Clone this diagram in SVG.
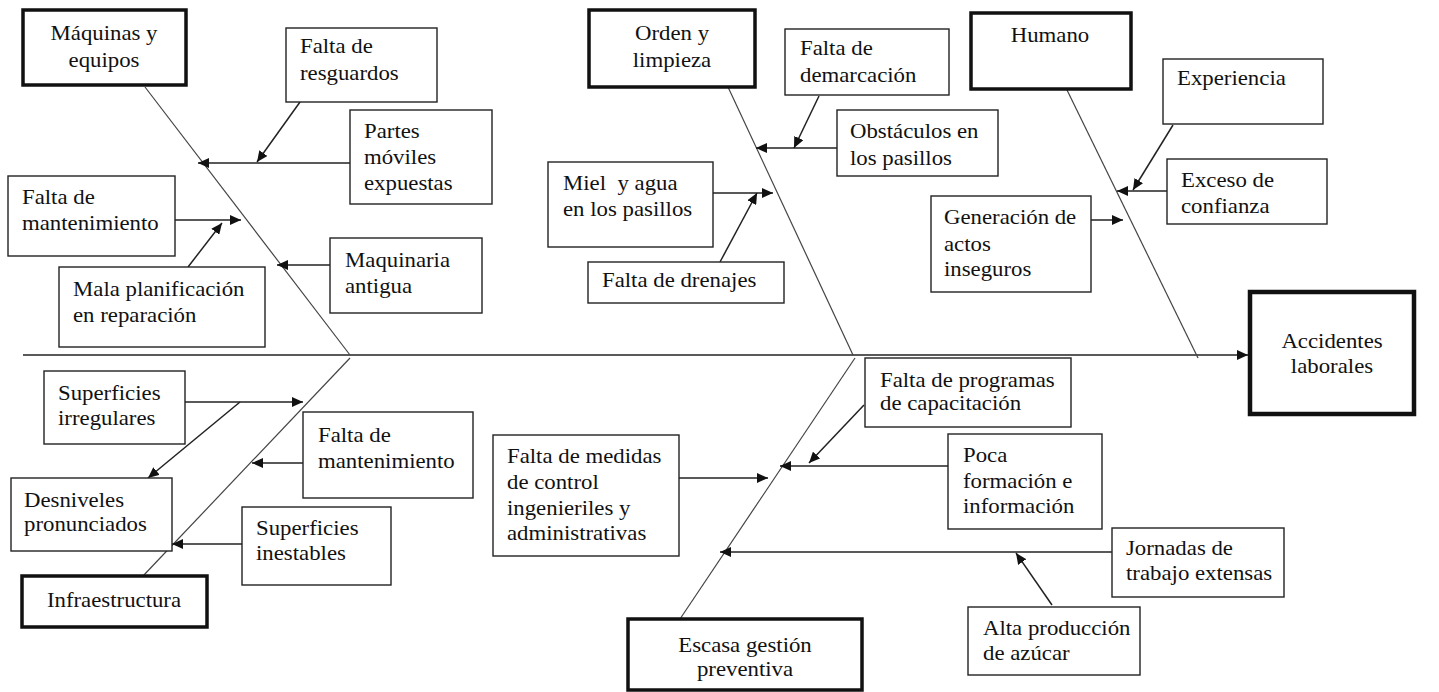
<svg xmlns="http://www.w3.org/2000/svg" width="1439" height="692" viewBox="0 0 1439 692">
<style>
.box{fill:#fff;stroke:#222;stroke-width:1.4}
.hd{fill:#fff;stroke:#111;stroke-width:3.5}
.t{font-family:'Liberation Serif','Times New Roman','DejaVu Serif',serif;font-size:20px;fill:#111;white-space:pre}
.c{text-anchor:middle}
.br{stroke:#444;stroke-width:1.2;fill:none}
.ar{stroke:#222;stroke-width:1.5;fill:none;marker-end:url(#ah)}
</style>
<defs>
<marker id="ah" markerUnits="userSpaceOnUse" markerWidth="12" markerHeight="10" refX="11" refY="5" orient="auto">
<path d="M0,0 L11,5 L0,10 z" fill="#111"/>
</marker>
</defs>
<rect width="1439" height="692" fill="#fff"/>
<g id="connectors">
<line class="ar" x1="23" y1="355" x2="1248" y2="355"/>
<line class="br" x1="145" y1="87" x2="350" y2="355"/>
<line class="br" x1="728" y1="87" x2="853" y2="355"/>
<line class="br" x1="1067" y1="90" x2="1198" y2="358"/>
<line class="br" x1="350" y1="358" x2="143" y2="576"/>
<line class="br" x1="855" y1="358" x2="680" y2="619"/>
<line class="ar" x1="350" y1="163" x2="198" y2="163"/>
<line class="ar" x1="300" y1="102" x2="257" y2="162"/>
<line class="ar" x1="175" y1="220" x2="241" y2="220"/>
<line class="ar" x1="188" y1="267" x2="222" y2="223"/>
<line class="ar" x1="330" y1="265" x2="277" y2="265"/>
<line class="ar" x1="837" y1="148" x2="756" y2="148"/>
<line class="ar" x1="819" y1="96" x2="794" y2="148"/>
<line class="ar" x1="713" y1="193" x2="773" y2="193"/>
<line class="ar" x1="720" y1="262" x2="757" y2="193"/>
<line class="ar" x1="1167" y1="191" x2="1117" y2="191"/>
<line class="ar" x1="1173" y1="125" x2="1133" y2="190"/>
<line class="ar" x1="1091" y1="220" x2="1123" y2="220"/>
<line class="ar" x1="185" y1="402" x2="303" y2="402"/>
<line class="ar" x1="240" y1="402" x2="148" y2="478"/>
<line class="ar" x1="303" y1="463" x2="252" y2="463"/>
<line class="ar" x1="242" y1="544" x2="172" y2="544"/>
<line class="ar" x1="864" y1="405" x2="809" y2="463"/>
<line class="ar" x1="948" y1="466" x2="780" y2="466"/>
<line class="ar" x1="679" y1="478" x2="768" y2="478"/>
<line class="ar" x1="1112" y1="552" x2="720" y2="552"/>
<line class="ar" x1="1052" y1="605" x2="1016" y2="553"/>
</g>
<g id="maquinas"><rect class="hd" x="23" y="10" width="163" height="75"/><text class="t c" transform="translate(104,40) scale(1.14,1)"><tspan x="0" y="0">Máquinas y</tspan><tspan x="0" y="27">equipos</tspan></text></g>
<g id="resguardos"><rect class="box" x="286" y="28" width="151" height="74"/><text class="t" transform="translate(300,53) scale(1.14,1)"><tspan x="0" y="0">Falta de</tspan><tspan x="0" y="27">resguardos</tspan></text></g>
<g id="partes"><rect class="box" x="350" y="110" width="142" height="94"/><text class="t" transform="translate(364,138) scale(1.14,1)"><tspan x="0" y="0">Partes</tspan><tspan x="0" y="26">móviles</tspan><tspan x="0" y="52">expuestas</tspan></text></g>
<g id="mant1"><rect class="box" x="8" y="176" width="167" height="80"/><text class="t" transform="translate(22,204) scale(1.14,1)"><tspan x="0" y="0">Falta de</tspan><tspan x="0" y="26">mantenimiento</tspan></text></g>
<g id="mala"><rect class="box" x="59" y="267" width="206" height="80"/><text class="t" transform="translate(73,296) scale(1.14,1)"><tspan x="0" y="0">Mala planificación</tspan><tspan x="0" y="26">en reparación</tspan></text></g>
<g id="maquinaria"><rect class="box" x="330" y="238" width="152" height="75"/><text class="t" transform="translate(345,267) scale(1.14,1)"><tspan x="0" y="0">Maquinaria</tspan><tspan x="0" y="26">antigua</tspan></text></g>
<g id="orden"><rect class="hd" x="589" y="10" width="166" height="77"/><text class="t c" transform="translate(672,40) scale(1.14,1)"><tspan x="0" y="0">Orden y</tspan><tspan x="0" y="27">limpieza</tspan></text></g>
<g id="demarcacion"><rect class="box" x="785" y="29" width="164" height="66"/><text class="t" transform="translate(800,55) scale(1.14,1)"><tspan x="0" y="0">Falta de</tspan><tspan x="0" y="27">demarcación</tspan></text></g>
<g id="obstaculos"><rect class="box" x="837" y="110" width="161" height="66"/><text class="t" transform="translate(850,138) scale(1.14,1)"><tspan x="0" y="0">Obstáculos en</tspan><tspan x="0" y="27">los pasillos</tspan></text></g>
<g id="miel"><rect class="box" x="548" y="162" width="165" height="85"/><text class="t" transform="translate(563,190) scale(1.14,1)"><tspan x="0" y="0">Miel  y agua</tspan><tspan x="0" y="26">en los pasillos</tspan></text></g>
<g id="drenajes"><rect class="box" x="588" y="262" width="196" height="41"/><text class="t" transform="translate(602,287) scale(1.14,1)">Falta de drenajes</text></g>
<g id="humano"><rect class="hd" x="971" y="13" width="160" height="76"/><text class="t c" transform="translate(1050,42) scale(1.14,1)">Humano</text></g>
<g id="experiencia"><rect class="box" x="1163" y="59" width="160" height="65"/><text class="t" transform="translate(1177,85) scale(1.14,1)">Experiencia</text></g>
<g id="exceso"><rect class="box" x="1167" y="159" width="160" height="65"/><text class="t" transform="translate(1181,187) scale(1.14,1)"><tspan x="0" y="0">Exceso de</tspan><tspan x="0" y="26">confianza</tspan></text></g>
<g id="generacion"><rect class="box" x="931" y="196" width="160" height="96"/><text class="t" transform="translate(944,224) scale(1.14,1)"><tspan x="0" y="0">Generación de</tspan><tspan x="0" y="27">actos</tspan><tspan x="0" y="52">inseguros</tspan></text></g>
<g id="accidentes"><rect x="1250" y="292" width="164" height="122" fill="#fff" stroke="#111" stroke-width="4.5"/><text class="t c" transform="translate(1332,348) scale(1.14,1)"><tspan x="0" y="0">Accidentes</tspan><tspan x="0" y="25">laborales</tspan></text></g>
<g id="sup_irreg"><rect class="box" x="44" y="371" width="141" height="73"/><text class="t" transform="translate(58,400) scale(1.14,1)"><tspan x="0" y="0">Superficies</tspan><tspan x="0" y="25">irregulares</tspan></text></g>
<g id="desniveles"><rect class="box" x="11" y="478" width="161" height="73"/><text class="t" transform="translate(24,507) scale(1.14,1)"><tspan x="0" y="0">Desniveles</tspan><tspan x="0" y="24">pronunciados</tspan></text></g>
<g id="mant2"><rect class="box" x="303" y="412" width="170" height="86"/><text class="t" transform="translate(318,442) scale(1.14,1)"><tspan x="0" y="0">Falta de</tspan><tspan x="0" y="26">mantenimiento</tspan></text></g>
<g id="inestables"><rect class="box" x="242" y="507" width="149" height="78"/><text class="t" transform="translate(256,535) scale(1.14,1)"><tspan x="0" y="0">Superficies</tspan><tspan x="0" y="25">inestables</tspan></text></g>
<g id="infra"><rect class="hd" x="22" y="576" width="185" height="51"/><text class="t c" transform="translate(114,607) scale(1.14,1)">Infraestructura</text></g>
<g id="escasa"><rect class="hd" x="628" y="619" width="234" height="71"/><text class="t c" transform="translate(745,652) scale(1.14,1)"><tspan x="0" y="0">Escasa gestión</tspan><tspan x="0" y="24">preventiva</tspan></text></g>
<g id="programas"><rect class="box" x="865" y="358" width="206" height="69"/><text class="t" transform="translate(880,387) scale(1.14,1)"><tspan x="0" y="0">Falta de programas</tspan><tspan x="0" y="23">de capacitación</tspan></text></g>
<g id="poca"><rect class="box" x="948" y="434" width="154" height="95"/><text class="t" transform="translate(963,462) scale(1.14,1)"><tspan x="0" y="0">Poca</tspan><tspan x="0" y="26">formación e</tspan><tspan x="0" y="51">información</tspan></text></g>
<g id="medidas"><rect class="box" x="493" y="435" width="186" height="121"/><text class="t" transform="translate(507,463) scale(1.14,1)"><tspan x="0" y="0">Falta de medidas</tspan><tspan x="0" y="26">de control</tspan><tspan x="0" y="52">ingenieriles y</tspan><tspan x="0" y="77">administrativas</tspan></text></g>
<g id="jornadas"><rect class="box" x="1112" y="528" width="172" height="69"/><text class="t" transform="translate(1126,555) scale(1.14,1)"><tspan x="0" y="0">Jornadas de</tspan><tspan x="0" y="25">trabajo extensas</tspan></text></g>
<g id="alta"><rect class="box" x="968" y="607" width="172" height="68"/><text class="t" transform="translate(983,635) scale(1.14,1)"><tspan x="0" y="0">Alta producción</tspan><tspan x="0" y="25">de azúcar</tspan></text></g>
</svg>
